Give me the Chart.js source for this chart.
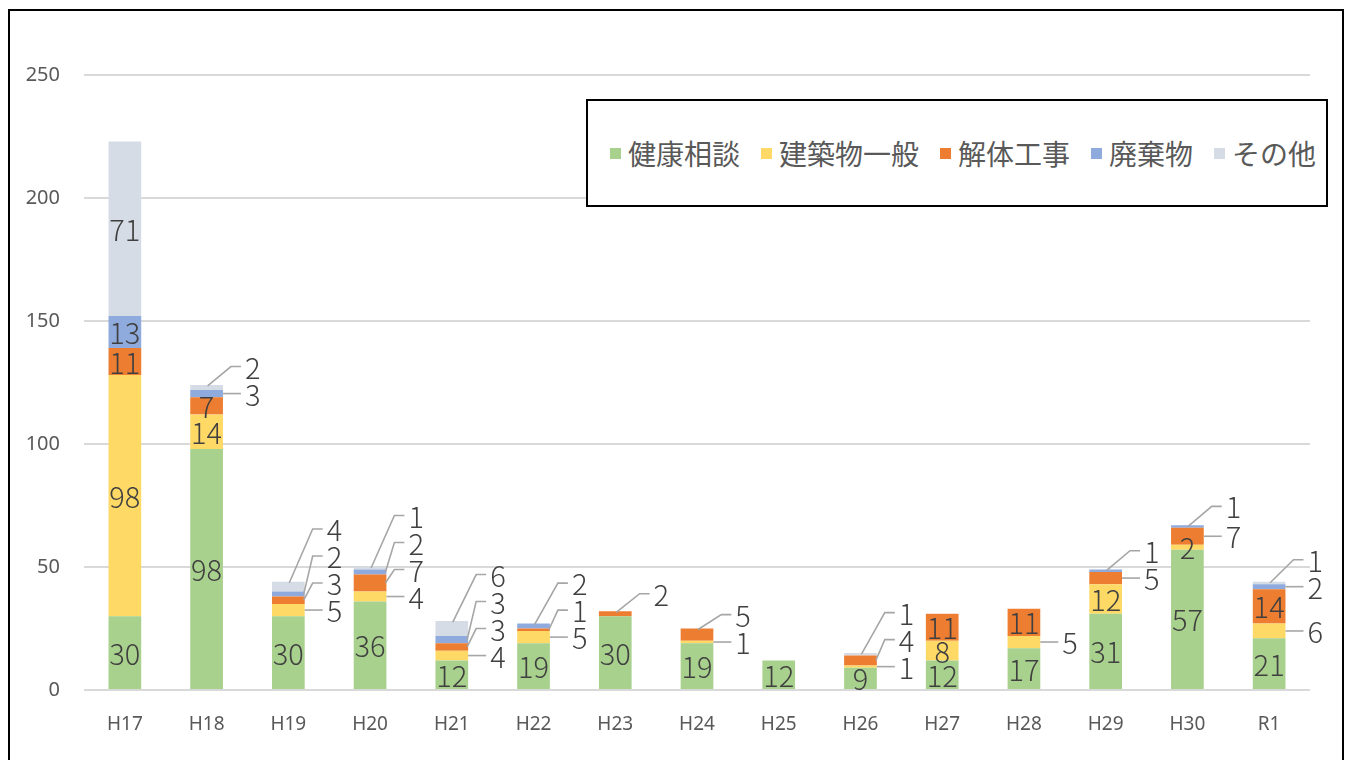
<!DOCTYPE html>
<html lang="ja">
<head>
<meta charset="utf-8">
<script src="https://cdn.jsdelivr.net/npm/chart.js@4"></script>
<style>
  html, body { margin:0; padding:0; background:#fff; width:1352px; height:760px; overflow:hidden; }
  #wrap { position:relative; width:1352px; height:760px; }
  #c { position:absolute; left:0; top:0; }
  #frame { position:absolute; left:8px; top:9px; width:1336px; height:800px; border:2px solid #000; box-sizing:border-box; pointer-events:none; }
  #legend { position:absolute; left:586px; top:99px; width:742px; height:108px; border:2px solid #000; box-sizing:border-box; background:#fff;
            display:flex; align-items:center; justify-content:center; gap:21px; padding-left:12px;
            font-family:"Noto Sans CJK JP","Noto Sans",sans-serif; font-size:28px; color:#595959; }
  .li { display:flex; align-items:center; white-space:nowrap; }
  .sw { width:11px; height:11px; margin-right:7px; }
</style>
</head>
<body>
<div id="wrap">
  <canvas id="c" width="1352" height="760"></canvas>
  <div id="legend"></div>
  <div id="frame"></div>
</div>
<script>
// ---- data ----
const categories = ['H17','H18','H19','H20','H21','H22','H23','H24','H25','H26','H27','H28','H29','H30','R1'];
const seriesNames = ['健康相談','建築物一般','解体工事','廃棄物','その他'];
const kenkoSodan   = [30, 98, 30, 36, 12, 19, 30, 19, 12, 9, 12, 17, 31, 57, 21];
const kenchikubutsu = [98, 14, 5, 4, 4, 5, 0, 1, 0, 1, 8, 5, 12, 2, 6];
const kaitaiKoji   = [11, 7, 3, 7, 3, 1, 2, 5, 0, 4, 11, 11, 5, 7, 14];
const haikibutsu   = [13, 3, 2, 2, 3, 2, 0, 0, 0, 0, 0, 0, 1, 1, 2];
const sonota       = [71, 2, 4, 1, 6, 0, 0, 0, 0, 1, 0, 0, 0, 0, 1];
const yTicks = [0, 50, 100, 150, 200, 250];

// ---- styles ----
const colors = ['#A9D18E', '#FFD966', '#ED7D31', '#8FAADC', '#D6DCE5'];
const seriesValues = [kenkoSodan, kenchikubutsu, kaitaiKoji, haikibutsu, sonota];
// labels that Excel kept inside despite small segment height
const forceInside = [['H18', 2], ['H30', 1]];

const legendEl = document.getElementById('legend');
seriesNames.forEach((n, i) => {
  const d = document.createElement('div'); d.className = 'li';
  const s = document.createElement('span'); s.className = 'sw'; s.style.background = colors[i];
  const t = document.createElement('span'); t.textContent = n;
  d.appendChild(s); d.appendChild(t); legendEl.appendChild(d);
});

const labelPlugin = {
  id: 'segLabels',
  afterDatasetsDraw(chart) {
    const ctx = chart.ctx;
    ctx.save();
    ctx.font = '300 29px "Noto Sans CJK JP", "Noto Sans", sans-serif';
    ctx.fillStyle = '#404040';
    ctx.textBaseline = 'middle';
    const labels = chart.data.labels;
    labels.forEach((cat, i) => {
      const segs = [];
      chart.data.datasets.forEach((ds, di) => {
        const v = ds.data[i];
        if (!v) return;
        const el = chart.getDatasetMeta(di).data[i];
        const top = Math.min(el.y, el.base), bot = Math.max(el.y, el.base);
        segs.push({ v, di, x: el.x, w: el.width, top, bot, cy: (top + bot) / 2, h: bot - top });
      });
      if (!segs.length) return;
      const topSeg = segs.reduce((a, b) => (b.top < a.top ? b : a));
      const outside = [];
      segs.forEach(s => {
        const forced = forceInside.some(f => f[0] === cat && f[1] === s.di);
        if (s.h >= 18 || forced) {
          ctx.textAlign = 'center';
          ctx.fillText(String(s.v), s.x, s.cy + 1);
        } else outside.push(s);
      });
      outside.sort((a, b) => b.cy - a.cy);
      let prev = Infinity;
      outside.forEach(s => {
        const target = (s === topSeg) ? s.cy - 20 : s.cy;
        const ly = Math.min(target, prev - 27);
        prev = ly;
        const right = s.x + s.w / 2;
        ctx.strokeStyle = '#A6A6A6';
        ctx.lineWidth = 1.6;
        ctx.beginPath();
        if (Math.abs(ly - s.cy) < 4) {
          ctx.moveTo(right, ly);
          ctx.lineTo(right + 18, ly);
        } else {
          if (s === topSeg) ctx.moveTo(s.x + 1, s.top + 1);
          else ctx.moveTo(right - 1, s.cy);
          ctx.lineTo(right + 8, ly);
          ctx.lineTo(right + 18, ly);
        }
        ctx.stroke();
        ctx.textAlign = 'left';
        ctx.fillText(String(s.v), right + 22, ly + 1);
      });
    });
    ctx.restore();
  }
};

const tickFont = { family: '"Noto Sans", sans-serif', size: 19 };
new Chart(document.getElementById('c'), {
  type: 'bar',
  data: {
    labels: categories,
    datasets: seriesNames.map((n, i) => ({
      label: n, data: seriesValues[i], backgroundColor: colors[i],
      borderWidth: 0, barPercentage: 0.4, categoryPercentage: 1.0
    }))
  },
  options: {
    responsive: false, animation: false,
    layout: { padding: { left: 0, right: 42, top: 75, bottom: 0 } },
    plugins: { legend: { display: false }, tooltip: { enabled: false } },
    scales: {
      x: {
        stacked: true,
        grid: { display: false, drawTicks: false },
        border: { display: false },
        ticks: { font: tickFont, color: '#595959', padding: 23 },
        afterFit(s) { s.height = 70; }
      },
      y: {
        stacked: true, min: 0, max: 250,
        afterBuildTicks(s) { s.ticks = yTicks.map(v => ({ value: v })); },
        grid: { color: '#D9D9D9', lineWidth: 2, drawTicks: false },
        border: { display: false },
        ticks: { font: { family: '"Noto Sans", sans-serif', size: 20 }, color: '#595959', padding: 24 },
        afterFit(s) { s.width = 84; }
      }
    }
  },
  plugins: [labelPlugin]
});
</script>
</body>
</html>
